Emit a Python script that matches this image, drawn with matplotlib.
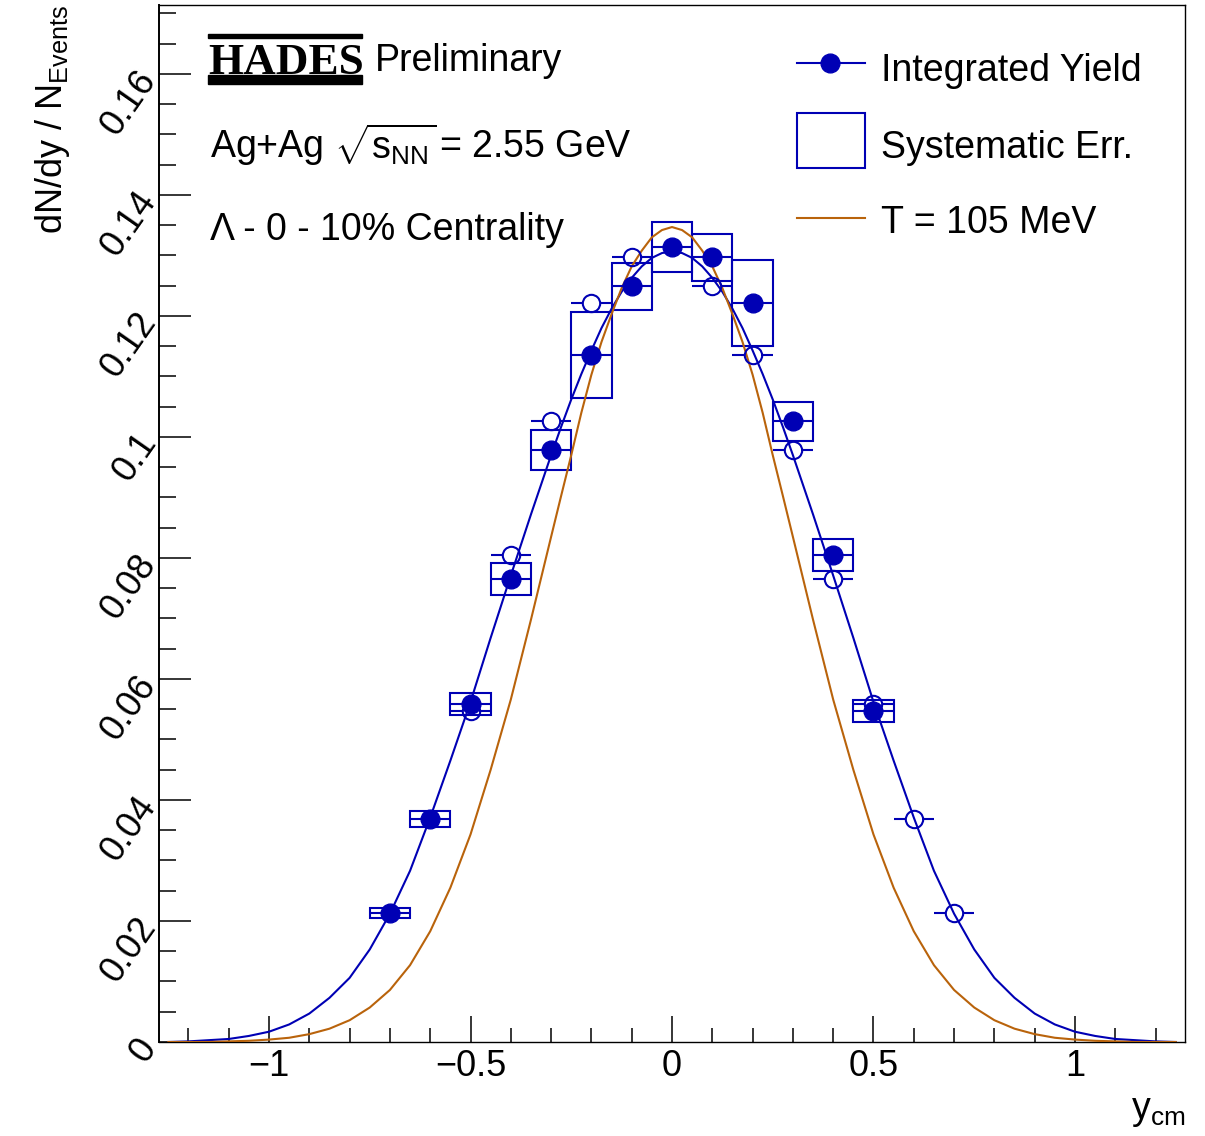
import numpy as np
import matplotlib.pyplot as plt
from matplotlib.patches import Rectangle
from matplotlib.ticker import MultipleLocator

plt.rcParams['font.family'] = ['Liberation Sans', 'DejaVu Sans']
plt.rcParams['mathtext.fontset'] = 'custom'
plt.rcParams['mathtext.rm'] = 'Liberation Sans'
plt.rcParams['mathtext.it'] = 'Liberation Sans:italic'
plt.rcParams['mathtext.bf'] = 'Liberation Sans:bold'

BLUE = '#0000b4'
ORANGE = '#b9630b'

# measured dN/dy (filled) and its systematic error
yield_x = [-0.7, -0.6, -0.5, -0.4, -0.3, -0.2, -0.1, 0.0, 0.1, 0.2, 0.3, 0.4, 0.5]
yield_val = [0.0213, 0.0369, 0.0559, 0.0765, 0.0979, 0.1136, 0.1249, 0.1314,
             0.1297, 0.1222, 0.1026, 0.0805, 0.0547]
sys_err = [0.0008, 0.0013, 0.0018, 0.0027, 0.0033, 0.0071, 0.0039, 0.0041,
           0.0039, 0.0071, 0.0032, 0.0026, 0.0018]

# reflected points (open)
refl_x = [-0.5, -0.4, -0.3, -0.2, -0.1, 0.1, 0.2, 0.3, 0.4, 0.5, 0.6, 0.7]
refl_val = [0.0547, 0.0805, 0.1026, 0.1222, 0.1297, 0.1249, 0.1136, 0.0979,
            0.0765, 0.0559, 0.0369, 0.0213]
bin_half = 0.05

# curves (finer steps around the peak)
curve_x = [-1.25, -1.2, -1.15, -1.1, -1.05, -1.0, -0.95, -0.9, -0.85, -0.8,
           -0.75, -0.7, -0.65, -0.6, -0.55, -0.5, -0.45, -0.4, -0.35,
           -0.3, -0.275, -0.25, -0.225, -0.2, -0.175, -0.15, -0.125, -0.1, -0.075, -0.05, -0.025,
           0.0,
           0.025, 0.05, 0.075, 0.1, 0.125, 0.15, 0.175, 0.2, 0.225, 0.25, 0.275, 0.3,
           0.35, 0.4, 0.45, 0.5, 0.55, 0.6, 0.65, 0.7, 0.75, 0.8,
           0.85, 0.9, 0.95, 1.0, 1.05, 1.1, 1.15, 1.2, 1.25]
fit_curve = [0.0, 0.0001, 0.0003, 0.0005, 0.0010, 0.0017, 0.0029, 0.0047, 0.0073, 0.0106,
             0.0153, 0.0212, 0.0283, 0.0371, 0.0465, 0.0562, 0.0668, 0.0771, 0.0872,
             0.0970, 0.1017, 0.1062, 0.1104, 0.1143, 0.1180, 0.1212, 0.1240, 0.1263, 0.1282, 0.1296, 0.1304,
             0.1307,
             0.1304, 0.1296, 0.1282, 0.1263, 0.1240, 0.1212, 0.1180, 0.1143, 0.1104, 0.1062, 0.1017, 0.0970,
             0.0872, 0.0771, 0.0668, 0.0562, 0.0465, 0.0371, 0.0283, 0.0212, 0.0153, 0.0106,
             0.0073, 0.0047, 0.0029, 0.0017, 0.0010, 0.0005, 0.0003, 0.0001, 0.0]
thermal_curve = [0.0, 0.0, 0.0, 0.0001, 0.0002, 0.0004, 0.0007, 0.0013, 0.0022, 0.0036,
                 0.0057, 0.0086, 0.0127, 0.0183, 0.0255, 0.0343, 0.0450, 0.0566, 0.0698,
                 0.0835, 0.0903, 0.0970, 0.1040, 0.1103, 0.1157, 0.1203, 0.1246, 0.1282, 0.1308, 0.1330, 0.1342,
                 0.1347,
                 0.1342, 0.1330, 0.1308, 0.1282, 0.1246, 0.1203, 0.1157, 0.1103, 0.1040, 0.0970, 0.0903, 0.0835,
                 0.0698, 0.0566, 0.0450, 0.0343, 0.0255, 0.0183, 0.0127, 0.0086, 0.0057, 0.0036,
                 0.0022, 0.0013, 0.0007, 0.0004, 0.0002, 0.0001, 0.0, 0.0, 0.0]

W, H = 1205, 1136
L, R, T, B = 159, 1185, 5, 1042

fig = plt.figure(figsize=(W / 100, H / 100), dpi=100)
ax = fig.add_axes([L / W, 1 - B / H, (R - L) / W, (B - T) / H])


def pa(x, y):
    # pixel -> axes fraction
    return (x - L) / (R - L), (B - y) / (B - T)


# systematic boxes
for x, v, s in zip(yield_x, yield_val, sys_err):
    ax.add_patch(Rectangle((x - bin_half, v - s), 2 * bin_half, 2 * s,
                           fill=False, ec=BLUE, lw=1.5, zorder=3))

# curves
ax.plot(curve_x, fit_curve, color=BLUE, lw=1.5, zorder=4)
ax.plot(curve_x, thermal_curve, color=ORANGE, lw=1.5, zorder=4)

# measured points
ax.errorbar(yield_x, yield_val, xerr=bin_half, fmt='o', color=BLUE, ms=13.5,
            elinewidth=1.5, capsize=0, zorder=5)

# reflected points, error bar stops at the marker edge
rx = np.array(refl_x)
gap = 0.021
ax.hlines(refl_val, rx - bin_half, rx - gap, color=BLUE, lw=1.5, zorder=5)
ax.hlines(refl_val, rx + gap, rx + bin_half, color=BLUE, lw=1.5, zorder=5)
ax.plot(refl_x, refl_val, 'o', mfc='none', mec=BLUE, mew=1.5, ms=12.5, zorder=5)

# axes
ax.set_xlim(-1.273, 1.273)
ax.set_ylim(0, 0.1714)
ax.set_xticks([-1, -0.5, 0, 0.5, 1])
ax.set_xticklabels(['\u22121', '\u22120.5', '0', '0.5', '1'], fontsize=26)
ax.xaxis.set_minor_locator(MultipleLocator(0.1))
yt = [0, 0.02, 0.04, 0.06, 0.08, 0.1, 0.12, 0.14, 0.16]
ax.set_yticks(yt)
ax.set_yticklabels(['0', '0.02', '0.04', '0.06', '0.08', '0.1', '0.12', '0.14', '0.16'],
                   fontsize=26, rotation=55, ha='right', va='center',
                   rotation_mode='anchor')
ax.yaxis.set_minor_locator(MultipleLocator(0.005))
ax.tick_params(axis='x', which='major', direction='in', length=19, width=1.1, pad=5)
ax.tick_params(axis='x', which='minor', direction='in', length=10, width=1.1)
ax.tick_params(axis='y', which='major', direction='in', length=23, width=1.1, pad=7)
ax.tick_params(axis='y', which='minor', direction='in', length=12, width=1.1)
ax.tick_params(top=False, right=False, which='both')
for sp in ax.spines.values():
    sp.set_linewidth(1.0)
ax.spines['left'].set_linewidth(1.4)

ax.set_ylabel(r'dN/dy / N$_{\mathrm{Events}}$', fontsize=26, loc='top')
ax.yaxis.set_label_coords(pa(72, 0)[0], 1.0)
fig.text(R / W, 1 - 1119 / H, r'y$_{\mathrm{cm}}$', fontsize=27, ha='right', va='baseline')

# HADES logo + labels
x0, y0 = pa(208, 38)
x1, y1 = pa(362, 34)
ax.add_patch(Rectangle((x0, y0), x1 - x0, y1 - y0, transform=ax.transAxes,
                       color='black', clip_on=False))
x0, y0 = pa(208, 84)
x1, y1 = pa(362, 75)
ax.add_patch(Rectangle((x0, y0), x1 - x0, y1 - y0, transform=ax.transAxes,
                       color='black', clip_on=False))
ax.text(*pa(208, 73.5), 'HADES', transform=ax.transAxes, fontsize=32.5,
        family='Liberation Serif', weight='bold', ha='left', va='baseline')
ax.text(*pa(375, 71), 'Preliminary', transform=ax.transAxes, fontsize=27,
        ha='left', va='baseline')
ax.text(*pa(210, 158), r'Ag+Ag $\sqrt{\mathrm{s}_{\mathrm{NN}}}\!$ = 2.55 GeV',
        transform=ax.transAxes, fontsize=27, ha='left', va='baseline')
ax.text(*pa(210, 240), '\u039b - 0 - 10% Centrality', transform=ax.transAxes,
        fontsize=27, ha='left', va='baseline')

# legend, drawn by hand
lx0, lx1 = pa(797, 0)[0], pa(865, 0)[0]
ax.plot([lx0, lx1], [pa(0, 62.5)[1]] * 2, color=BLUE, lw=1.5, transform=ax.transAxes)
ax.plot([pa(830, 0)[0]], [pa(0, 62.5)[1]], 'o', color=BLUE, ms=13.5, transform=ax.transAxes)
bx0, by0 = pa(797, 167.5)
bx1, by1 = pa(865, 113)
ax.add_patch(Rectangle((bx0, by0), bx1 - bx0, by1 - by0, transform=ax.transAxes,
                       fill=False, ec=BLUE, lw=1.5))
ax.plot([lx0, lx1], [pa(0, 217.5)[1]] * 2, color=ORANGE, lw=1.5, transform=ax.transAxes)
ax.text(*pa(881, 81), 'Integrated Yield', transform=ax.transAxes, fontsize=27, va='baseline')
ax.text(*pa(881, 158), 'Systematic Err.', transform=ax.transAxes, fontsize=27, va='baseline')
ax.text(*pa(881, 233), 'T = 105 MeV', transform=ax.transAxes, fontsize=27, va='baseline')

fig.savefig('out.png', dpi=100)
